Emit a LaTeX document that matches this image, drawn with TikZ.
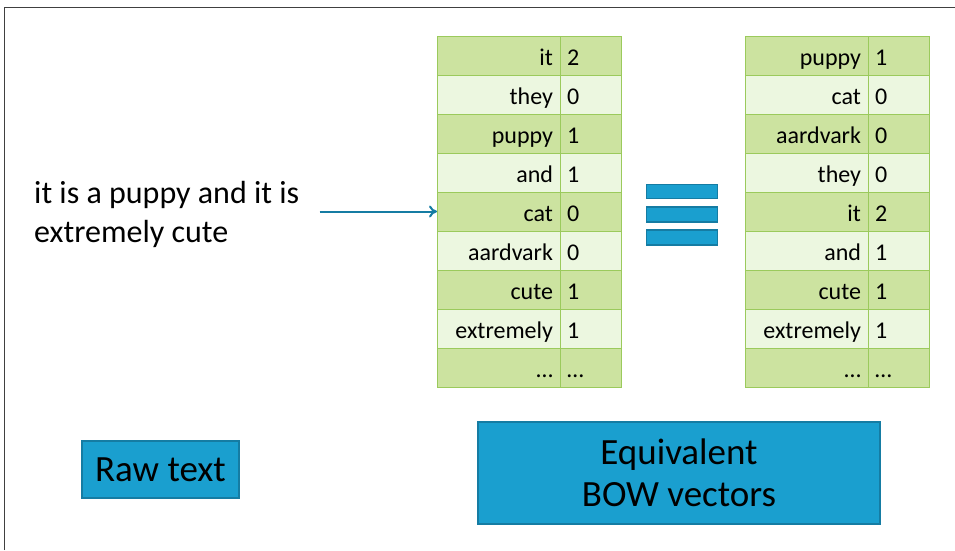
\documentclass[tikz,border=0pt]{standalone}
\usepackage{fontspec}
\setmainfont{Carlito}
\usetikzlibrary{positioning,arrows.meta}
\definecolor{bowgreen}{RGB}{204,227,160}
\definecolor{bowlight}{RGB}{236,247,224}
\definecolor{bowedge}{RGB}{155,202,92}
\definecolor{bowblue}{RGB}{26,159,207}
\definecolor{bowdark}{RGB}{21,124,163}

\begin{document}
\begin{tikzpicture}[
    x=1pt, y=-1pt,
    word/.style={draw=bowedge, line width=1pt, outer sep=0pt, minimum height=39pt, text width=109pt, text height=20pt, text depth=1pt, inner xsep=7pt, inner ysep=0pt, align=right, font=\fontsize{24}{26}\selectfont},
    count/.style={word, text width=47pt, align=left},
    bluebox/.style={draw=bowdark, line width=1.6pt, fill=bowblue, align=center, inner sep=0pt},
    arrow/.style={-{To[length=8pt,width=12pt]}, line width=2pt, draw=bowdark}
]

\useasboundingbox (0,0) rectangle (955,550);
\draw[black!75, line width=1pt] (4,550) -- (4,7) -- (955,7);

% Raw sentence
\node[anchor=west, align=left, inner sep=0pt, font=\fontsize{32}{39}\selectfont] (sentence) at (34,214.5) {it is a puppy and it is\\extremely cute};

% Left BOW vector
\foreach \w/\n [count=\i] in {it/2, they/0, puppy/1, and/1, cat/0, aardvark/0, cute/1, extremely/1, \ldots/\ldots}
{
  \ifodd\i \def\rowfill{bowgreen}\else \def\rowfill{bowlight}\fi
  \node[word, fill=\rowfill] (L\i) at (498.5,16.5+39*\i) {\w};
  \node[count, fill=\rowfill, right=0pt of L\i] (Ln\i) {\n};
}

% Right BOW vector
\foreach \w/\n [count=\i] in {puppy/1, cat/0, aardvark/0, they/0, it/2, and/1, cute/1, extremely/1, \ldots/\ldots}
{
  \ifodd\i \def\rowfill{bowgreen}\else \def\rowfill{bowlight}\fi
  \node[word, fill=\rowfill] (R\i) at (806.5,16.5+39*\i) {\w};
  \node[count, fill=\rowfill, right=0pt of R\i] (Rn\i) {\n};
}

% Equals sign
\node[bluebox, minimum width=71pt, minimum height=14pt] (eq1) at (682,191.5) {};
\node[bluebox, minimum width=71pt, minimum height=15pt, below=7pt of eq1] (eq2) {};
\node[bluebox, minimum width=71pt, minimum height=15pt, below=6pt of eq2] (eq3) {};

% Captions
\node[bluebox, minimum width=157pt, minimum height=57pt, font=\fontsize{37}{42}\selectfont] (raw) at (160.5,469.5) {Raw text};
\node[bluebox, minimum width=402pt, minimum height=102pt, font=\fontsize{37}{42}\selectfont] (equiv) at (679,473) {Equivalent\\BOW vectors};

% Arrow
\draw[arrow, shorten <=20pt] (sentence.east |- L5.west) -- (L5.west);

\end{tikzpicture}
\end{document}
